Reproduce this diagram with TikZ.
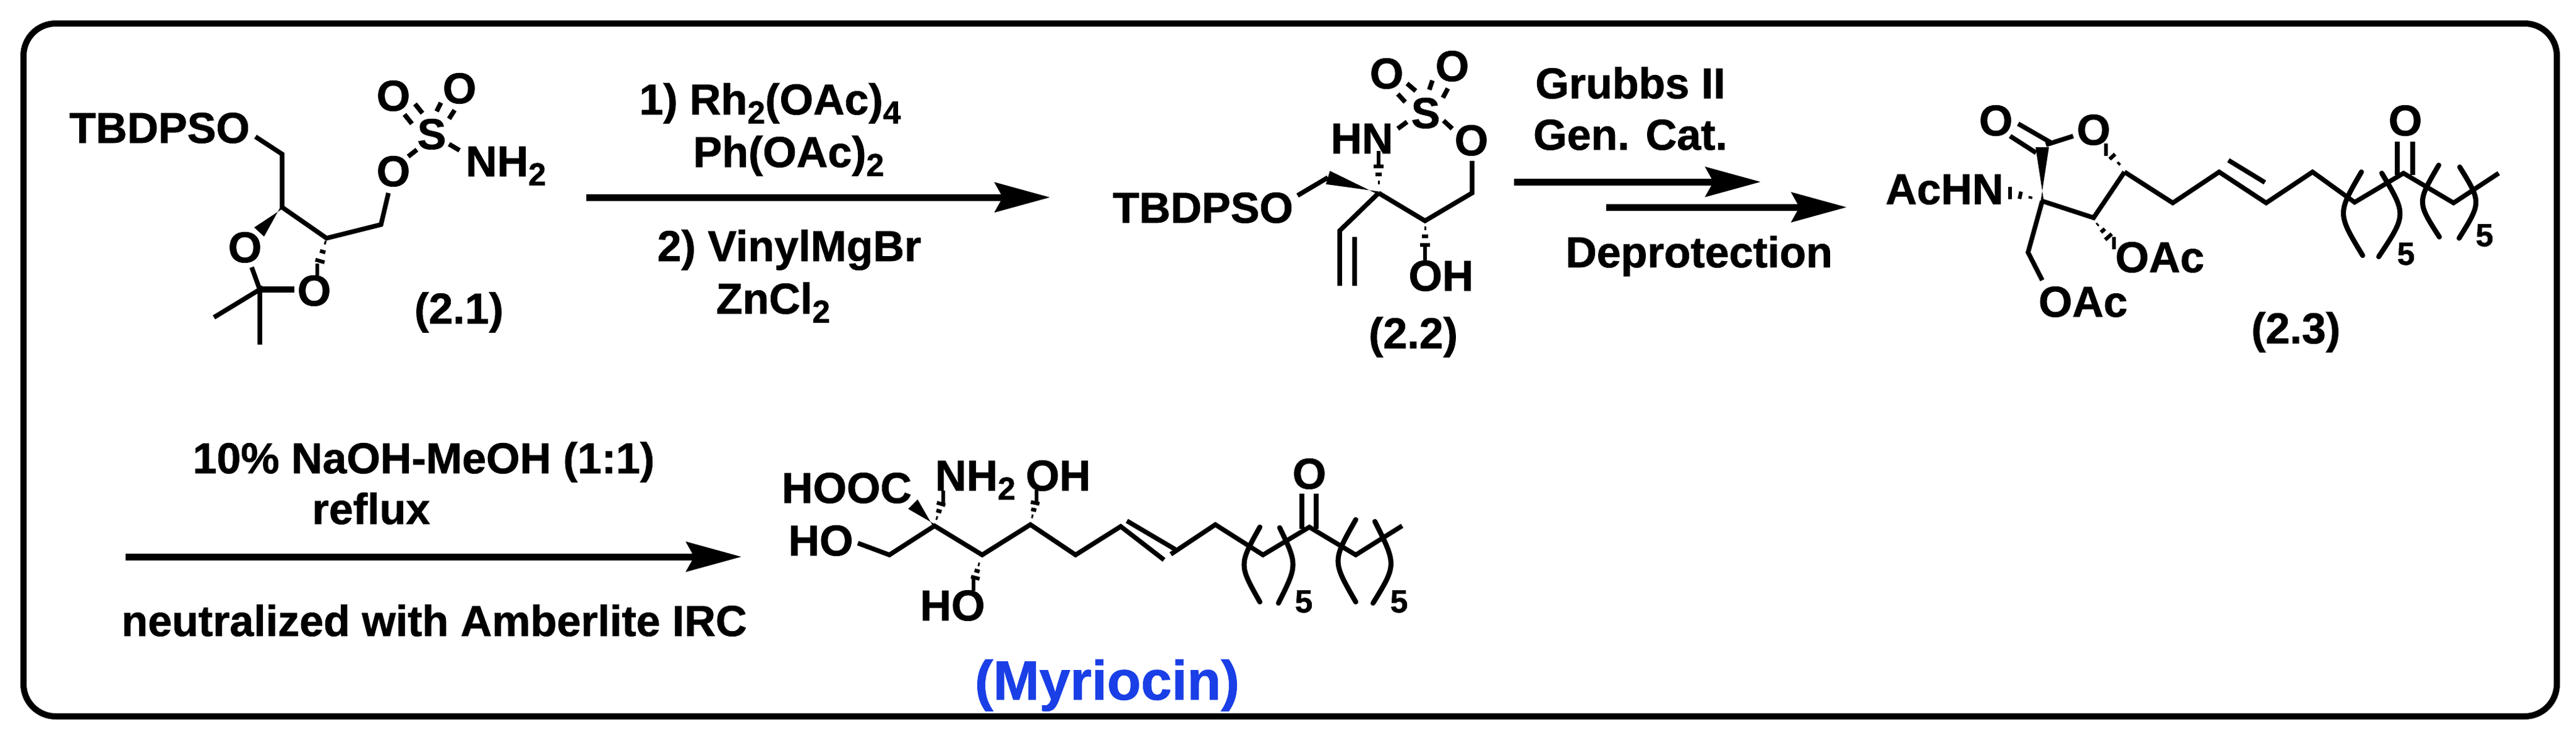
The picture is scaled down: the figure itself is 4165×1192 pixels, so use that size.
\documentclass[tikz,border=0pt]{standalone}
\usepackage{fontspec}
\setmainfont{Liberation Sans}[BoldFeatures={FakeBold=1}]
\usetikzlibrary{calc,arrows.meta}
\definecolor{myrblue}{HTML}{1A3FE6}
\newcommand{\lowsub}[1]{\raisebox{-0.21em}{\fontsize{12.4pt}{12.4pt}\selectfont #1}}
\newcommand{\hashbond}[4]{%
  \foreach \hf in {#4}{%
    \pgfmathsetmacro{\ww}{#3*\hf}%
    \draw[hashline] ($(#1)!\hf!(#2)!\ww pt!90:(#2)$) -- ($(#1)!\hf!(#2)!-\ww pt!90:(#2)$);%
  }}
\newcommand{\wedgebond}[3]{%
  \fill ($(#1)!0.6pt!90:(#2)$) -- ($(#2)!#3 pt!90:(#1)$) -- ($(#2)!-#3 pt!90:(#1)$) -- ($(#1)!-0.6pt!90:(#2)$) -- cycle;}
\newcommand{\parenarc}[3]{\draw[parenline] (#1) .. controls (#2) .. (#3);}
\tikzset{
  bond/.style={line width=1.8pt,line cap=butt,line join=miter},
  thickbond/.style={line width=2.4pt,line cap=butt},
  hashline/.style={line width=1.45pt,line cap=butt},
  parenline/.style={line width=1.95pt,line cap=round},
  rxnarrow/.style={line width=2.64pt,-{Stealth[length=21.4pt,width=11.4pt,inset=3pt]}},
  frame/.style={line width=2.4pt,rounded corners=12.5pt},
  atom/.style={anchor=base,inner sep=0pt,font=\fontsize{16.8pt}{18pt}\selectfont\bfseries},
  count/.style={anchor=base,inner sep=0pt,font=\fontsize{12.4pt}{14pt}\selectfont\bfseries},
  title/.style={anchor=base,inner sep=0pt,text=myrblue,font=\fontsize{21.5pt}{24pt}\selectfont\bfseries},
}
\begin{document}
\begin{tikzpicture}[x=0.24pt,y=-0.24pt]
\useasboundingbox (0,0) rectangle (4165,1192);
\coordinate (f1) at (38,38); \coordinate (f2) at (4134,1158);
\draw[frame] (f1) rectangle (f2);

% ---------- compound 2.1
\node[atom] (a_tbdpso) at (258,231) {TBDPSO};
\node[atom] (a_o1) at (636,179) {O};
\node[atom] (a_o2) at (743,167) {O};
\node[atom] (a_s) at (698,241) {S};
\node[atom] (a_o3) at (636,301) {O};
\node[atom] (a_nh2) at (818,285) {NH\lowsub{2}};
\node[atom] (a_o4) at (396,424) {O};
\node[atom] (a_o5) at (508,494) {O};
\node[atom] (a_lab) at (742,523) {(2.1)};
\coordinate (a1) at (413,221); \coordinate (a2) at (456,249); \coordinate (a3) at (456,335);
\coordinate (a4) at (528,385); \coordinate (a5) at (616,363); \coordinate (a6) at (628,312);
\draw[bond] (a1)--(a2)--(a3)--(a4)--(a5)--(a6);
\coordinate (a7) at (671,168); \coordinate (a8) at (683,183);
\coordinate (a9) at (654,185); \coordinate (a10) at (666,200);
\coordinate (a11) at (713,166); \coordinate (a12) at (706,180);
\coordinate (a13) at (735,178); \coordinate (a14) at (726,192);
\draw[bond] (a7)--(a8) (a9)--(a10) (a11)--(a12) (a13)--(a14);
\coordinate (a15) at (660,253); \coordinate (a16) at (674,242);
\coordinate (a17) at (726,233); \coordinate (a18) at (743,243);
\draw[bond] (a15)--(a16) (a17)--(a18);
\coordinate (a19) at (419,375); \wedgebond{a3}{a19}{2.6}
\coordinate (a20) at (513,437); \hashbond{a4}{a20}{2.6}{0.14,0.42,0.71,1.0}
\coordinate (a21) at (420,468); \coordinate (a22) at (407,432); \coordinate (a23) at (476,468);
\coordinate (a24) at (346,513); \coordinate (a25) at (420,557);
\draw[bond] (a22)--(a21) (a24)--(a21)--(a25);
\draw[thickbond] (a21)--(a23);

% ---------- arrow 1
\coordinate (r1s) at (948,319); \coordinate (r1e) at (1698,319);
\draw[rxnarrow] (r1s)--(r1e);
\node[atom] (r1a) at (1245,185) {1) Rh\lowsub{2}(OAc)\lowsub{4}};
\node[atom] (r1b) at (1275,270) {Ph(OAc)\lowsub{2}};
\node[atom] (r1c) at (1276,422) {2) VinylMgBr};
\node[atom] (r1d) at (1250,507) {ZnCl\lowsub{2}};

% ---------- compound 2.2
\node[atom] (b_tbdpso) at (1945,360) {TBDPSO};
\node[atom] (b_hn) at (2202,248) {HN};
\node[atom] (b_s) at (2305,207) {S};
\node[atom] (b_o1) at (2242,143) {O};
\node[atom] (b_o2) at (2348,131) {O};
\node[atom] (b_o3) at (2379,251) {O};
\node[atom] (b_oh) at (2330,470) {OH};
\node[atom] (b_lab) at (2285,563) {(2.2)};
\coordinate (b1) at (2098,316); \coordinate (b2) at (2147,287); \coordinate (b3) at (2229,312);
\coordinate (b4) at (2166,373); \coordinate (b5) at (2166,462);
\coordinate (b6) at (2190,383); \coordinate (b7) at (2190,462);
\coordinate (b8) at (2304,357); \coordinate (b9) at (2380,312); \coordinate (b10) at (2380,260);
\coordinate (b11) at (2229,255); \coordinate (b12) at (2304,410);
\coordinate (b3h) at (2229,302); \coordinate (b8h) at (2304,362);
\draw[bond] (b1)--(b2);
\wedgebond{b3}{b2}{2.7}
\draw[bond] (b3)--(b4)--(b5) (b6)--(b7) (b3)--(b8)--(b9)--(b10);
\hashbond{b3h}{b11}{2.6}{0.14,0.42,0.71,1.0}
\hashbond{b8h}{b12}{2.6}{0.14,0.42,0.71,1.0}
\coordinate (b13) at (2260,208); \coordinate (b14) at (2275,197);
\coordinate (b15) at (2334,195); \coordinate (b16) at (2348,208);
\draw[bond] (b13)--(b14) (b15)--(b16);
\coordinate (b17) at (2275,135); \coordinate (b18) at (2289,147);
\coordinate (b19) at (2260,152); \coordinate (b20) at (2272,165);
\coordinate (b21) at (2316,130); \coordinate (b22) at (2311,145);
\coordinate (b23) at (2341,143); \coordinate (b24) at (2333,158);
\draw[bond] (b17)--(b18) (b19)--(b20) (b21)--(b22) (b23)--(b24);

% ---------- arrow 2
\coordinate (r2s) at (2448,294); \coordinate (r2e) at (2847,294);
\coordinate (r3s) at (2597,335); \coordinate (r3e) at (2986,335);
\draw[rxnarrow] (r2s)--(r2e);
\draw[rxnarrow] (r3s)--(r3e);
\node[atom] (r2a) at (2636,159) {Grubbs II};
\node[atom] (r2b) at (2636,242) {Gen. Cat.};
\node[atom] (r2c) at (2747,432) {Deprotection};

% ---------- compound 2.3
\node[atom] (c_achn) at (3144,330) {AcHN};
\node[atom] (c_o1) at (3227,219) {O};
\node[atom] (c_o2) at (3385,234) {O};
\node[atom] (c_oac1) at (3492,440) {OAc};
\node[atom] (c_oac2) at (3368,512) {OAc};
\node[atom] (c_o3) at (3889,219) {O};
\node[count] (c_n1) at (3890,428) {5};
\node[count] (c_n2) at (4017,398) {5};
\node[atom] (c_lab) at (3712,555) {(2.3)};
\coordinate (c1) at (3302,325); \coordinate (c2) at (3302,238); \coordinate (c2b) at (3308,234);
\coordinate (c3) at (3352,220); \coordinate (c4) at (3435,278); \coordinate (c5) at (3385,352);
\coordinate (c6) at (3279,408); \coordinate (c7) at (3302,453);
\coordinate (c8) at (3513,328); \coordinate (c9) at (3588,278); \coordinate (c10) at (3664,328);
\coordinate (c11) at (3739,278); \coordinate (c12) at (3807,327); \coordinate (c13) at (3886,280);
\coordinate (c14) at (3967,328); \coordinate (c15) at (4040,280);
\wedgebond{c1}{c2}{2.6}
\draw[bond] (c2b)--(c3) (c1)--(c5)--(c4) (c1)--(c6)--(c7);
\draw[bond] (c4)--(c8)--(c9)--(c10)--(c11)--(c12)--(c13)--(c14)--(c15);
\coordinate (c16) at (3603,259); \coordinate (c17) at (3662,295); \draw[bond] (c16)--(c17);
\coordinate (c18) at (3250,220); \coordinate (c19) at (3292,247);
\coordinate (c20) at (3263,200); \coordinate (c21) at (3315,230);
\draw[bond] (c18)--(c19) (c20)--(c21);
\coordinate (c22) at (3876,229); \coordinate (c23) at (3876,283);
\coordinate (c24) at (3901,229); \coordinate (c25) at (3901,283);
\draw[bond] (c22)--(c23) (c24)--(c25);
\coordinate (c26) at (3291,321); \coordinate (c27) at (3250,312); \hashbond{c26}{c27}{2.4}{0.2,0.6,1.0}
\coordinate (c28) at (3431,270); \coordinate (c29) at (3405,242); \hashbond{c28}{c29}{2.4}{0.2,0.6,1.0}
\coordinate (c30) at (3387,358); \coordinate (c31) at (3418,393); \hashbond{c30}{c31}{2.4}{0.14,0.42,0.71,1.0}
\coordinate (cp1a) at (3818,278); \coordinate (cp1b) at (3779,345); \coordinate (cp1c) at (3820,413);
\coordinate (cp2a) at (3851,280); \coordinate (cp2b) at (3891,347); \coordinate (cp2c) at (3846,415);
\coordinate (cp3a) at (3943,267); \coordinate (cp3b) at (3908,327); \coordinate (cp3c) at (3944,383);
\coordinate (cp4a) at (3977,270); \coordinate (cp4b) at (4012,327); \coordinate (cp4c) at (3976,385);
\parenarc{cp1a}{cp1b}{cp1c}\parenarc{cp2a}{cp2b}{cp2c}\parenarc{cp3a}{cp3b}{cp3c}\parenarc{cp4a}{cp4b}{cp4c}

% ---------- arrow 3
\coordinate (r4s) at (203,900); \coordinate (r4e) at (1199,900);
\draw[rxnarrow] (r4s)--(r4e);
\node[atom] (r4a) at (685,765) {10\% NaOH-MeOH (1:1)};
\node[atom] (r4b) at (600,847) {reflux};
\node[atom] (r4c) at (702,1028) {neutralized with Amberlite IRC};

% ---------- myriocin
\node[atom] (d_hooc) at (1369,813) {HOOC};
\node[atom] (d_nh2) at (1577,793) {NH\lowsub{2}};
\node[atom] (d_oh1) at (1711,793) {OH};
\node[atom] (d_ho1) at (1327,898) {HO};
\node[atom] (d_ho2) at (1540,1003) {HO};
\node[atom] (d_o) at (2117,790) {O};
\node[count] (d_n1) at (2108,990) {5};
\node[count] (d_n2) at (2262,990) {5};
\node[title] (d_name) at (1790,1131) {(Myriocin)};
\coordinate (d1) at (1387,878); \coordinate (d2) at (1438,897); \coordinate (d3) at (1511,850);
\coordinate (d4) at (1588,897); \coordinate (d5) at (1666,848); \coordinate (d6) at (1739,897);
\coordinate (d7) at (1812,851); \coordinate (d7e) at (1882,905); \coordinate (d8) at (1893,896); \coordinate (d9) at (1965,848);
\coordinate (d10) at (2042,897); \coordinate (d11) at (2117,852); \coordinate (d12) at (2192,897);
\coordinate (d13) at (2267,850);
\draw[bond] (d1)--(d2)--(d3)--(d4)--(d5)--(d6)--(d7)--(d7e);
\draw[bond] (d8)--(d9)--(d10)--(d11)--(d12)--(d13);
\coordinate (d14) at (1822,842); \coordinate (d15) at (1900,888); \draw[bond] (d14)--(d15);
\coordinate (d16) at (2105,798); \coordinate (d17) at (2105,855);
\coordinate (d18) at (2128,798); \coordinate (d19) at (2128,855);
\draw[bond] (d16)--(d17) (d18)--(d19);
\coordinate (d20) at (1476,815); \wedgebond{d3}{d20}{2.6}
\coordinate (d21) at (1525,803); \coordinate (d3h) at (1513,843); \hashbond{d3h}{d21}{2.4}{0.14,0.42,0.71,1.0}
\coordinate (d22) at (1676,802); \coordinate (d5h) at (1668,840); \hashbond{d5h}{d22}{2.4}{0.14,0.42,0.71,1.0}
\coordinate (d23) at (1574,945); \coordinate (d4h) at (1584,907); \hashbond{d4h}{d23}{2.4}{0.14,0.42,0.71,1.0}
\coordinate (dp1a) at (2037,852); \coordinate (dp1b) at (2003,913); \coordinate (dp1c) at (2037,973);
\coordinate (dp2a) at (2069,853); \coordinate (dp2b) at (2098,913); \coordinate (dp2c) at (2067,975);
\coordinate (dp3a) at (2192,840); \coordinate (dp3b) at (2154,907); \coordinate (dp3c) at (2192,973);
\coordinate (dp4a) at (2223,843); \coordinate (dp4b) at (2258,913); \coordinate (dp4c) at (2220,975);
\parenarc{dp1a}{dp1b}{dp1c}\parenarc{dp2a}{dp2b}{dp2c}\parenarc{dp3a}{dp3b}{dp3c}\parenarc{dp4a}{dp4b}{dp4c}
\end{tikzpicture}
\end{document}
